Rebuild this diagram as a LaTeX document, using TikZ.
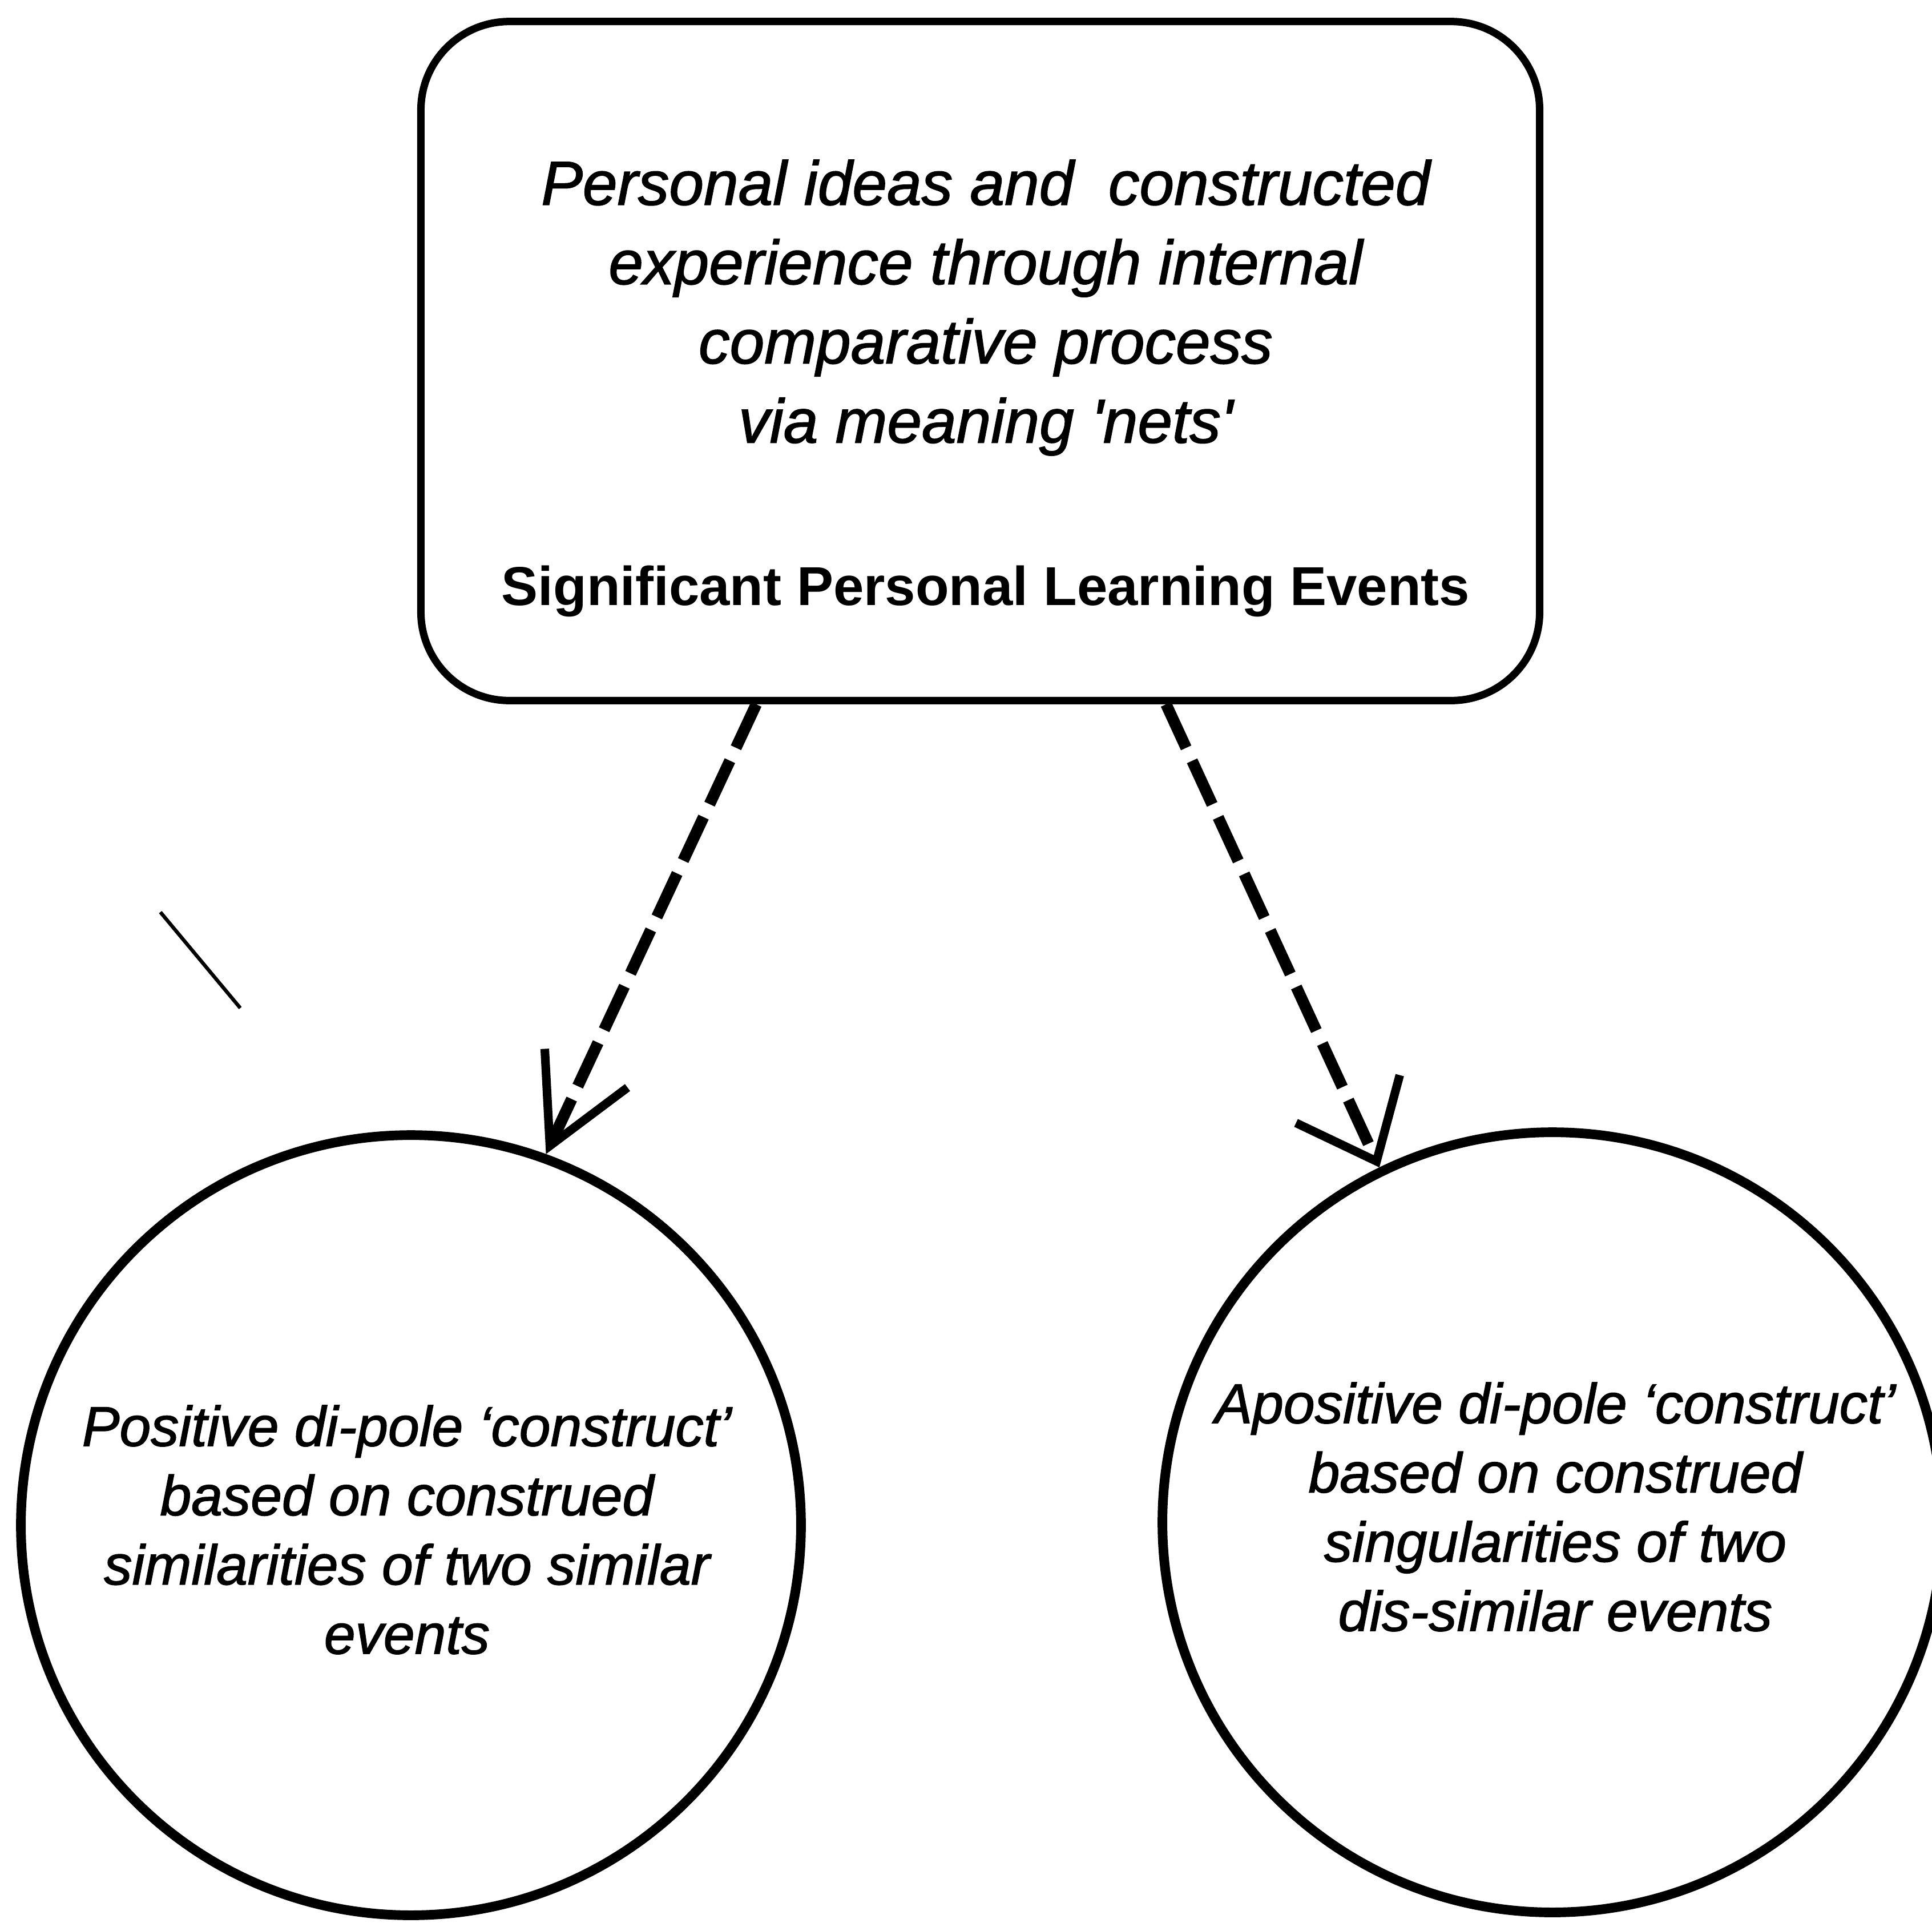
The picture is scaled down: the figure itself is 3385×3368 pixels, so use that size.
\documentclass[tikz,border=0pt]{standalone}
\usepackage{fontspec}
\setmainfont{Liberation Sans}
\newfontfamily\inkfont{Liberation Sans}[Ligatures=TeX, FakeBold=1.5]
\usetikzlibrary{arrows.meta}
\begin{document}
\begin{tikzpicture}[x=0.01cm,y=-0.01cm,
  eventbox/.style={draw, line width=3.7pt, rounded corners=1.55cm,
    minimum width=19.59cm, minimum height=11.89cm, inner sep=0pt},
  pole/.style={draw, circle, line width=4.8pt, minimum size=13.66cm, inner sep=0pt},
  boxtext/.style={align=center, inner sep=0pt,
    font=\inkfont\fontsize{31}{39.5}\selectfont\itshape},
  boxtitle/.style={inner sep=0pt, font=\fontsize{27.3}{33}\selectfont\bfseries},
  poletext/.style={align=center, inner sep=0pt,
    font=\inkfont\fontsize{28}{34.5}\selectfont\itshape},
  link/.style={line width=5.7pt, dash pattern=on 0.84cm off 0.25cm},
]
\useasboundingbox (0,0) rectangle (3385,3368);

% top box with its two texts
\node[eventbox] (events) at (1717.5,632.5) {};
\node[boxtext] (ideas) at (1727,539) {Personal ideas and~ constructed\\
  experience through internal\\
  comparative process\\
  via meaning \textquotesingle nets\textquotesingle};
\node[boxtitle] (title) at (1727,1036) {Significant Personal Learning Events};

% the two poles
\node[pole] (posL) at (720,2672) {};
\node[pole] (posR) at (2720,2667) {};
\node[poletext] (posLtext) at (713,2680) {Positive di-pole ‘construct’\\
  based on construed\\
  similarities of two similar\\
  events};
\node[poletext] (posRtext) at (2725,2640) {Apositive di-pole ‘construct’\\
  based on construed\\
  singularities of two\\
  dis-similar events};

% dashed links from the box to the poles
\draw[link, -{Straight Barb[length=1.5cm, width=1.6cm, line width=4.3pt]}]
  (1325,0 |- events.south) -- (posL.70);
\draw[link, -{Straight Barb[length=1.2cm, width=2cm, line width=4.3pt]}]
  (2043,0 |- events.south) -- (posR.116);

% loose pen stroke on the left
\coordinate (strokeA) at (281,1598);
\coordinate (strokeB) at (421,1766);
\draw[line width=1.8pt] (strokeA) -- (strokeB);
\end{tikzpicture}
\end{document}
